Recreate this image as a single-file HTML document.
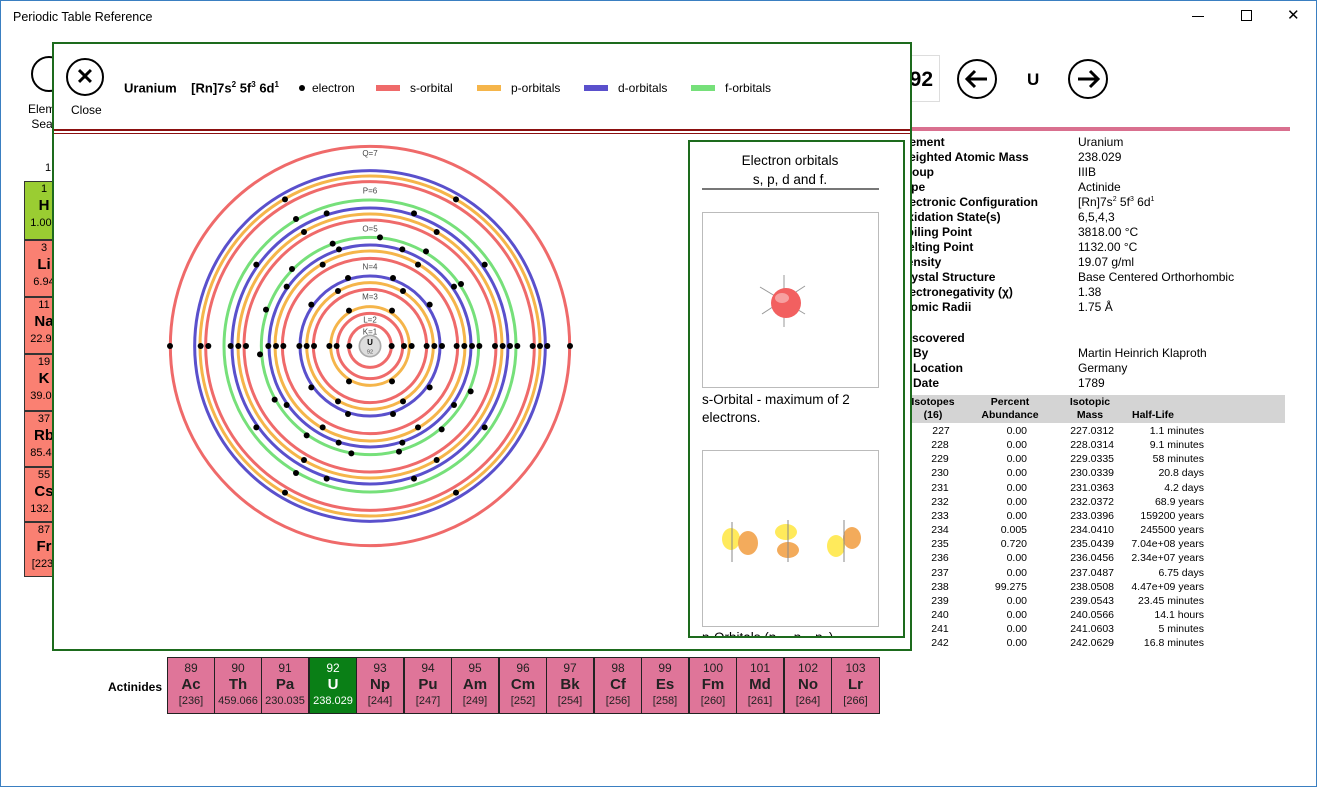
<!DOCTYPE html>
<html><head><meta charset="utf-8"><style>
*{margin:0;padding:0;box-sizing:border-box}
body{width:1317px;height:787px;position:relative;overflow:hidden;background:#fff;font-family:"Liberation Sans",sans-serif;color:#000}
.abs{position:absolute}
.win{left:0;top:0;width:1317px;height:787px;border:1px solid #3a7fc1}
.tile{position:absolute;left:24px;width:40px;border:1px solid #333;background:#fa8072;text-align:center;font-size:11px;line-height:1.3}
.tile b{font-size:15px;display:block}
.prop{position:absolute;font-size:12px;white-space:nowrap}
.prop.l{left:898px;font-weight:bold}
.prop.v{left:1078px}
.iso{position:absolute;font-size:10.5px;white-space:nowrap;text-align:right}
.act{position:absolute;top:657px;height:57px;width:48px;border:1px solid #222;background:#df7599;text-align:center;color:#222}
.act .n{font-size:12px;margin-top:3px}
.act .s{font-size:15px;font-weight:bold;margin-top:1px}
.act .m{font-size:11px;margin-top:2px}
.circ{position:absolute;border:2px solid #000;border-radius:50%;background:#fff;text-align:center;font-weight:bold}
</style></head><body>
<div class="abs win"></div>
<div class="abs" style="left:13px;top:10px;font-size:12.5px">Periodic Table Reference</div>
<div class="abs" style="left:1192px;top:16px;width:12px;height:1px;background:#000"></div>
<div class="abs" style="left:1241px;top:10px;width:11px;height:11px;border:1px solid #000"></div>
<div class="abs" style="left:1287px;top:6px;font-size:15px">✕</div>

<!-- background left -->
<div class="circ" style="left:31px;top:56px;width:36px;height:36px"></div>
<div class="abs" style="left:28px;top:102px;font-size:12px;line-height:15px">Elem<br>&nbsp;Sea</div>
<div class="abs" style="left:45px;top:162px;font-size:11px">1</div>
<div class="tile" style="top:181px;height:59px;background:#9acd32">1<b>H</b>1.008</div>
<div class="tile" style="top:240px;height:57px">3<b>Li</b>6.94</div>
<div class="tile" style="top:297px;height:57px">11<b>Na</b>22.99</div>
<div class="tile" style="top:354px;height:57px">19<b>K</b>39.09</div>
<div class="tile" style="top:411px;height:56px">37<b>Rb</b>85.46</div>
<div class="tile" style="top:467px;height:55px">55<b>Cs</b>132.9</div>
<div class="tile" style="top:522px;height:55px">87<b>Fr</b>[223]</div>

<!-- right side -->
<div class="abs" style="left:880px;top:55px;width:60px;height:47px;border:1px solid #ddd;font-size:21px;font-weight:bold;text-align:right;padding:12px 6px 0 0">92</div>
<svg class="abs" style="left:956px;top:58px" width="44" height="44"><circle cx="21" cy="21" r="19" fill="#fff" stroke="#000" stroke-width="2"/><path d="M31 21H12M19 13l-8 8 8 8" fill="none" stroke="#000" stroke-width="3"/></svg>
<div class="abs" style="left:1027px;top:70px;font-size:17px;font-weight:bold">U</div>
<svg class="abs" style="left:1066px;top:58px" width="44" height="44"><circle cx="22" cy="21" r="19" fill="#fff" stroke="#000" stroke-width="2"/><path d="M12 21H31M24 13l8 8-8 8" fill="none" stroke="#000" stroke-width="3"/></svg>
<div class="abs" style="left:880px;top:127px;width:410px;height:4px;background:#d9708f"></div>
<div class="prop l" style="top:135px">Element</div><div class="prop v" style="top:135px">Uranium</div>
<div class="prop l" style="top:150px">Weighted Atomic Mass</div><div class="prop v" style="top:150px">238.029</div>
<div class="prop l" style="top:165px">Group</div><div class="prop v" style="top:165px">IIIB</div>
<div class="prop l" style="top:180px">Type</div><div class="prop v" style="top:180px">Actinide</div>
<div class="prop l" style="top:195px">Electronic Configuration</div><div class="prop v" style="top:195px">[Rn]7s<sup style="font-size:7px">2</sup> 5f<sup style="font-size:7px">3</sup> 6d<sup style="font-size:7px">1</sup></div>
<div class="prop l" style="top:210px">Oxidation State(s)</div><div class="prop v" style="top:210px">6,5,4,3</div>
<div class="prop l" style="top:225px">Boiling Point</div><div class="prop v" style="top:225px">3818.00 °C</div>
<div class="prop l" style="top:240px">Melting Point</div><div class="prop v" style="top:240px">1132.00 °C</div>
<div class="prop l" style="top:255px">Density</div><div class="prop v" style="top:255px">19.07 g/ml</div>
<div class="prop l" style="top:270px">Crystal Structure</div><div class="prop v" style="top:270px">Base Centered Orthorhombic</div>
<div class="prop l" style="top:285px">Electronegativity (χ)</div><div class="prop v" style="top:285px">1.38</div>
<div class="prop l" style="top:300px">Atomic Radii</div><div class="prop v" style="top:300px">1.75 Å</div>
<div class="prop l" style="top:331px;left:900px">Discovered</div>
<div class="prop l" style="top:346px;left:913px">By</div><div class="prop v" style="top:346px">Martin Heinrich Klaproth</div>
<div class="prop l" style="top:361px;left:913px">Location</div><div class="prop v" style="top:361px">Germany</div>
<div class="prop l" style="top:376px;left:913px">Date</div><div class="prop v" style="top:376px">1789</div>
<div class="abs" style="left:905px;top:395px;width:380px;height:28px;background:#d4d4d4"></div>
<div class="iso" style="left:905px;width:56px;text-align:center;top:396px;font-weight:bold;line-height:13px">Isotopes<br>(16)</div>
<div class="iso" style="left:975px;width:70px;text-align:center;top:396px;font-weight:bold;line-height:13px">Percent<br>Abundance</div>
<div class="iso" style="left:1060px;width:60px;text-align:center;top:396px;font-weight:bold;line-height:13px">Isotopic<br>Mass</div>
<div class="iso" style="left:1132px;top:409px;font-weight:bold;text-align:left">Half-Life</div>
<div class="abs" style="left:905px;top:424px;width:310px;font-size:10.5px;line-height:14.15px">
<table style="border-collapse:collapse;font-size:10.5px">
<colgroup><col style="width:70px"><col style="width:52px"><col style="width:87px"><col style="width:90px"></colgroup>
<tbody style="text-align:right">
<tr><td style="text-align:center;padding-left:2px">227</td><td>0.00</td><td>227.0312</td><td>1.1 minutes</td></tr>
<tr><td style="text-align:center">228</td><td>0.00</td><td>228.0314</td><td>9.1 minutes</td></tr>
<tr><td style="text-align:center">229</td><td>0.00</td><td>229.0335</td><td>58 minutes</td></tr>
<tr><td style="text-align:center">230</td><td>0.00</td><td>230.0339</td><td>20.8 days</td></tr>
<tr><td style="text-align:center">231</td><td>0.00</td><td>231.0363</td><td>4.2 days</td></tr>
<tr><td style="text-align:center">232</td><td>0.00</td><td>232.0372</td><td>68.9 years</td></tr>
<tr><td style="text-align:center">233</td><td>0.00</td><td>233.0396</td><td>159200 years</td></tr>
<tr><td style="text-align:center">234</td><td>0.005</td><td>234.0410</td><td>245500 years</td></tr>
<tr><td style="text-align:center">235</td><td>0.720</td><td>235.0439</td><td>7.04e+08 years</td></tr>
<tr><td style="text-align:center">236</td><td>0.00</td><td>236.0456</td><td>2.34e+07 years</td></tr>
<tr><td style="text-align:center">237</td><td>0.00</td><td>237.0487</td><td>6.75 days</td></tr>
<tr><td style="text-align:center">238</td><td>99.275</td><td>238.0508</td><td>4.47e+09 years</td></tr>
<tr><td style="text-align:center">239</td><td>0.00</td><td>239.0543</td><td>23.45 minutes</td></tr>
<tr><td style="text-align:center">240</td><td>0.00</td><td>240.0566</td><td>14.1 hours</td></tr>
<tr><td style="text-align:center">241</td><td>0.00</td><td>241.0603</td><td>5 minutes</td></tr>
<tr><td style="text-align:center">242</td><td>0.00</td><td>242.0629</td><td>16.8 minutes</td></tr>
</tbody></table></div>

<!-- actinides -->
<div class="abs" style="left:108px;top:680px;font-size:12px;font-weight:bold">Actinides</div>
<div class="act" style="left:167px"><div class="n">89</div><div class="s">Ac</div><div class="m">[236]</div></div>
<div class="act" style="left:214px"><div class="n">90</div><div class="s">Th</div><div class="m">459.066</div></div>
<div class="act" style="left:261px"><div class="n">91</div><div class="s">Pa</div><div class="m">230.035</div></div>
<div class="act" style="left:309px;background:#0a7f16;color:#fff"><div class="n">92</div><div class="s">U</div><div class="m">238.029</div></div>
<div class="act" style="left:356px"><div class="n">93</div><div class="s">Np</div><div class="m">[244]</div></div>
<div class="act" style="left:404px"><div class="n">94</div><div class="s">Pu</div><div class="m">[247]</div></div>
<div class="act" style="left:451px"><div class="n">95</div><div class="s">Am</div><div class="m">[249]</div></div>
<div class="act" style="left:499px"><div class="n">96</div><div class="s">Cm</div><div class="m">[252]</div></div>
<div class="act" style="left:546px"><div class="n">97</div><div class="s">Bk</div><div class="m">[254]</div></div>
<div class="act" style="left:594px"><div class="n">98</div><div class="s">Cf</div><div class="m">[256]</div></div>
<div class="act" style="left:641px"><div class="n">99</div><div class="s">Es</div><div class="m">[258]</div></div>
<div class="act" style="left:689px"><div class="n">100</div><div class="s">Fm</div><div class="m">[260]</div></div>
<div class="act" style="left:736px"><div class="n">101</div><div class="s">Md</div><div class="m">[261]</div></div>
<div class="act" style="left:784px"><div class="n">102</div><div class="s">No</div><div class="m">[264]</div></div>
<div class="act" style="left:831px;width:49px"><div class="n">103</div><div class="s">Lr</div><div class="m">[266]</div></div>

<!-- dialog -->
<div class="abs" style="left:52px;top:42px;width:860px;height:609px;border:2px solid #1d6b1d;background:#fff"></div>
<div class="circ" style="left:66px;top:58px;width:38px;height:38px;font-size:22px;line-height:33px">✕</div>
<div class="abs" style="left:71px;top:103px;font-size:12px">Close</div>
<div class="abs" style="left:124px;top:80px;font-size:13px;font-weight:bold;white-space:nowrap">Uranium&nbsp;&nbsp;&nbsp; [Rn]7s<sup style="font-size:8px">2</sup> 5f<sup style="font-size:8px">3</sup> 6d<sup style="font-size:8px">1</sup></div>
<div class="abs" style="left:299px;top:85px;width:6px;height:6px;border-radius:50%;background:#000"></div>
<div class="abs" style="left:312px;top:81px;font-size:12px">electron</div>
<div class="abs" style="left:376px;top:85px;width:24px;height:6px;background:#ef6a6a"></div>
<div class="abs" style="left:410px;top:81px;font-size:12px">s-orbital</div>
<div class="abs" style="left:477px;top:85px;width:24px;height:6px;background:#f5b54a"></div>
<div class="abs" style="left:511px;top:81px;font-size:12px">p-orbitals</div>
<div class="abs" style="left:584px;top:85px;width:24px;height:6px;background:#5a50cc"></div>
<div class="abs" style="left:618px;top:81px;font-size:12px">d-orbitals</div>
<div class="abs" style="left:691px;top:85px;width:24px;height:6px;background:#76e07a"></div>
<div class="abs" style="left:725px;top:81px;font-size:12px">f-orbitals</div>
<div class="abs" style="left:54px;top:129px;width:856px;height:2px;background:#8b1010"></div>
<div class="abs" style="left:54px;top:133px;width:856px;height:1px;background:#8b1010"></div>

<svg class="abs" style="left:160px;top:140px" width="420" height="420" viewBox="0 0 1260 1260">
<g fill="none" stroke-width="9">
<circle cx="630" cy="618" r="599" stroke="#ef6a6a"/>
<circle cx="630" cy="618" r="526" stroke="#5a50cc"/>
<circle cx="630" cy="618" r="510" stroke="#f5b54a"/>
<circle cx="630" cy="618" r="493" stroke="#ef6a6a"/>
<circle cx="630" cy="618" r="438" stroke="#76e07a"/>
<circle cx="630" cy="618" r="414" stroke="#5a50cc"/>
<circle cx="630" cy="618" r="396" stroke="#f5b54a"/>
<circle cx="630" cy="618" r="378" stroke="#ef6a6a"/>
<circle cx="630" cy="618" r="326" stroke="#76e07a"/>
<circle cx="630" cy="618" r="303" stroke="#5a50cc"/>
<circle cx="630" cy="618" r="285" stroke="#f5b54a"/>
<circle cx="630" cy="618" r="263" stroke="#ef6a6a"/>
<circle cx="630" cy="618" r="210" stroke="#5a50cc"/>
<circle cx="630" cy="618" r="190" stroke="#f5b54a"/>
<circle cx="630" cy="618" r="170" stroke="#ef6a6a"/>
<circle cx="630" cy="618" r="118" stroke="#f5b54a"/>
<circle cx="630" cy="618" r="98" stroke="#ef6a6a"/>
<circle cx="630" cy="618" r="64" stroke="#ef6a6a"/>
</g>
<circle cx="630" cy="618" r="32" fill="#ddd" stroke="#aaa" stroke-width="5"/>
<text x="630" y="615" font-size="24" font-weight="bold" text-anchor="middle" font-family="Liberation Sans">U</text>
<text x="630" y="640" font-size="17" text-anchor="middle" font-family="Liberation Sans" fill="#555">92</text>
<g font-size="24" text-anchor="middle" font-family="Liberation Sans" fill="#444">
<text x="630" y="48">Q=7</text><text x="630" y="161">P=6</text><text x="630" y="275">O=5</text>
<text x="630" y="388">N=4</text><text x="630" y="478">M=3</text><text x="630" y="548">L=2</text><text x="630" y="584">K=1</text>
</g>
<g fill="#000">
<circle cx="30" cy="618" r="9"/><circle cx="122" cy="618" r="9"/><circle cx="145" cy="618" r="9"/><circle cx="212" cy="618" r="9"/><circle cx="235" cy="618" r="9"/><circle cx="258" cy="618" r="9"/><circle cx="325" cy="618" r="9"/><circle cx="348" cy="618" r="9"/><circle cx="370" cy="618" r="9"/><circle cx="418" cy="618" r="9"/><circle cx="440" cy="618" r="9"/><circle cx="462" cy="618" r="9"/><circle cx="508" cy="618" r="9"/><circle cx="530" cy="618" r="9"/><circle cx="568" cy="618" r="9"/>
<circle cx="695" cy="618" r="9"/><circle cx="732" cy="618" r="9"/><circle cx="755" cy="618" r="9"/><circle cx="800" cy="618" r="9"/><circle cx="823" cy="618" r="9"/><circle cx="846" cy="618" r="9"/><circle cx="890" cy="618" r="9"/><circle cx="913" cy="618" r="9"/><circle cx="936" cy="618" r="9"/><circle cx="958" cy="618" r="9"/><circle cx="1005" cy="618" r="9"/><circle cx="1028" cy="618" r="9"/><circle cx="1050" cy="618" r="9"/><circle cx="1072" cy="618" r="9"/><circle cx="1118" cy="618" r="9"/><circle cx="1140" cy="618" r="9"/><circle cx="1162" cy="618" r="9"/><circle cx="1230" cy="618" r="9"/>
<circle cx="375" cy="178" r="9"/><circle cx="888" cy="178" r="9"/><circle cx="408" cy="237" r="9"/><circle cx="500" cy="220" r="9"/><circle cx="762" cy="220" r="9"/><circle cx="432" cy="276" r="9"/><circle cx="830" cy="276" r="9"/><circle cx="660" cy="292" r="9"/><circle cx="518" cy="311" r="9"/><circle cx="537" cy="328" r="9"/><circle cx="727" cy="328" r="9"/><circle cx="798" cy="334" r="9"/><circle cx="289" cy="374" r="9"/><circle cx="396" cy="387" r="9"/><circle cx="488" cy="374" r="9"/><circle cx="774" cy="374" r="9"/><circle cx="974" cy="374" r="9"/><circle cx="564" cy="414" r="9"/><circle cx="699" cy="414" r="9"/><circle cx="380" cy="440" r="9"/><circle cx="882" cy="440" r="9"/><circle cx="903" cy="432" r="9"/><circle cx="534" cy="453" r="9"/><circle cx="729" cy="453" r="9"/><circle cx="454" cy="494" r="9"/><circle cx="809" cy="494" r="9"/><circle cx="318" cy="509" r="9"/><circle cx="567" cy="512" r="9"/><circle cx="696" cy="512" r="9"/>
<circle cx="300" cy="643" r="9"/><circle cx="567" cy="724" r="9"/><circle cx="696" cy="724" r="9"/><circle cx="454" cy="742" r="9"/><circle cx="809" cy="742" r="9"/><circle cx="932" cy="754" r="9"/><circle cx="344" cy="779" r="9"/><circle cx="380" cy="795" r="9"/><circle cx="534" cy="784" r="9"/><circle cx="729" cy="784" r="9"/><circle cx="882" cy="795" r="9"/><circle cx="564" cy="822" r="9"/><circle cx="699" cy="822" r="9"/><circle cx="289" cy="862" r="9"/><circle cx="488" cy="862" r="9"/><circle cx="774" cy="862" r="9"/><circle cx="845" cy="868" r="9"/><circle cx="974" cy="862" r="9"/><circle cx="440" cy="886" r="9"/><circle cx="536" cy="908" r="9"/><circle cx="727" cy="908" r="9"/><circle cx="574" cy="940" r="9"/><circle cx="717" cy="935" r="9"/><circle cx="432" cy="960" r="9"/><circle cx="830" cy="960" r="9"/><circle cx="408" cy="999" r="9"/><circle cx="500" cy="1016" r="9"/><circle cx="762" cy="1016" r="9"/><circle cx="375" cy="1058" r="9"/><circle cx="888" cy="1058" r="9"/>
</g>
</svg>

<!-- orbital panel -->
<div class="abs" style="left:688px;top:140px;width:217px;height:498px;border:2px solid #1d6b1d;overflow:hidden">
<div class="abs" style="left:0;top:9px;width:200px;text-align:center;font-size:13.5px;line-height:19px">Electron orbitals<br>s, p, d and f.</div>
<div class="abs" style="left:12px;top:46px;width:177px;height:2px;background:#777"></div>
<div class="abs" style="left:12px;top:70px;width:177px;height:176px;border:1px solid #bbb"></div>
<svg class="abs" style="left:60px;top:130px" width="70" height="60">
<line x1="10" y1="15" x2="55" y2="42" stroke="#999"/><line x1="12" y1="42" x2="55" y2="14" stroke="#999"/><line x1="34" y1="3" x2="34" y2="55" stroke="#999"/>
<circle cx="36" cy="31" r="15" fill="#f26060"/><ellipse cx="32" cy="26" rx="7" ry="5" fill="#f7a0a0"/>
</svg>
<div class="abs" style="left:12px;top:249px;font-size:13.5px;line-height:18px">s-Orbital - maximum of 2<br>electrons.</div>
<div class="abs" style="left:12px;top:308px;width:177px;height:177px;border:1px solid #bbb"></div>
<svg class="abs" style="left:18px;top:375px" width="170" height="50">
<g fill="#ffe84a" opacity="0.9"><ellipse cx="23" cy="22" rx="9" ry="11"/><ellipse cx="78" cy="15" rx="11" ry="8"/><ellipse cx="128" cy="29" rx="9" ry="11"/></g>
<g fill="#f2a24a" opacity="0.9"><ellipse cx="40" cy="26" rx="10" ry="12"/><ellipse cx="80" cy="33" rx="11" ry="8"/><ellipse cx="144" cy="21" rx="9" ry="11"/></g>
<g stroke="#888"><line x1="24" y1="5" x2="24" y2="45"/><line x1="80" y1="3" x2="80" y2="45"/><line x1="136" y1="3" x2="136" y2="45"/></g>
</svg>
<div class="abs" style="left:12px;top:488px;font-size:13.5px">p-Orbitals (p<sub>-1</sub>, p<sub>0</sub>, p<sub>1</sub>)</div>
</div>
</body></html>
